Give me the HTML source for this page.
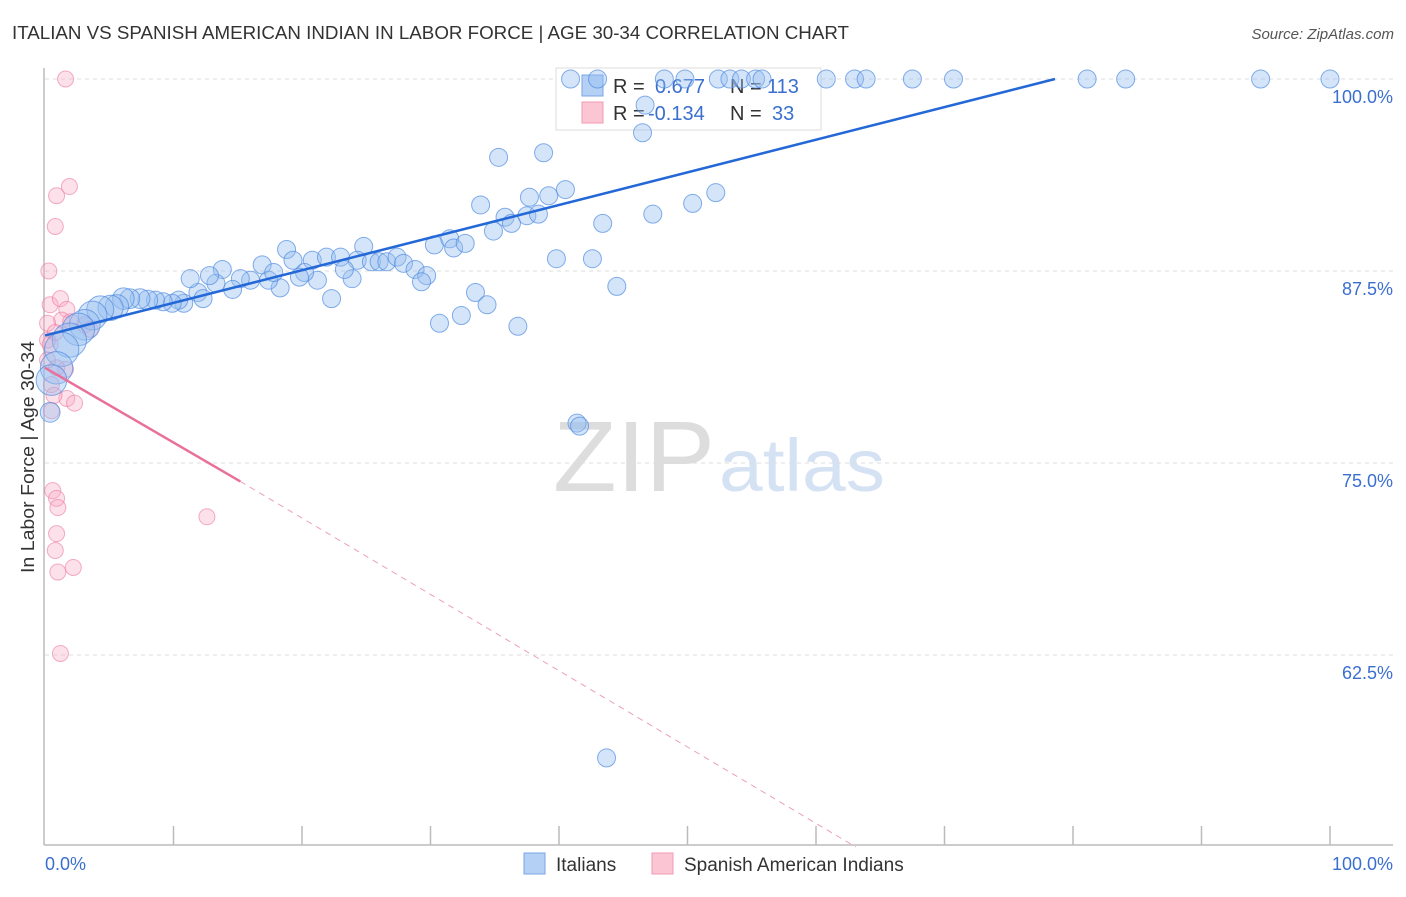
<!DOCTYPE html>
<html><head><meta charset="utf-8"><style>
body{margin:0;background:#fff;font-family:"Liberation Sans",sans-serif;}
svg text{font-family:"Liberation Sans",sans-serif;}
</style></head><body>
<svg id="chart" width="1406" height="892" xmlns="http://www.w3.org/2000/svg">
<text x="12" y="39" font-size="18.8" fill="#333" textLength="837" lengthAdjust="spacingAndGlyphs">ITALIAN VS SPANISH AMERICAN INDIAN IN LABOR FORCE | AGE 30-34 CORRELATION CHART</text>
<text x="1394" y="39" font-size="15" fill="#555" text-anchor="end" font-style="italic">Source: ZipAtlas.com</text>
<text x="553" y="491" font-size="100" fill="#ddd" font-family="Liberation Serif" textLength="162" lengthAdjust="spacingAndGlyphs">ZIP</text>
<text x="719" y="491" font-size="74" fill="#d4e2f4" textLength="166" lengthAdjust="spacingAndGlyphs">atlas</text>
<text transform="translate(34,457) rotate(-90)" font-size="18.5" fill="#333" text-anchor="middle" textLength="232" lengthAdjust="spacingAndGlyphs">In Labor Force | Age 30-34</text>
<g id="grid"></g>
<line x1="44" y1="68" x2="44" y2="845" stroke="#bbb" stroke-width="1.5"/>
<line x1="44" y1="845" x2="1393" y2="845" stroke="#bbb" stroke-width="1.5"/>
<text x="45" y="870" font-size="18" fill="#3a6fd0">0.0%</text>
<text x="1393" y="870" font-size="18" fill="#3a6fd0" text-anchor="end">100.0%</text>
<g id="legend-box">
<rect x="556" y="68" width="265" height="62" fill="#fff" stroke="#ddd"/>
<rect x="582" y="75" width="21" height="21" fill="#b5d0f5" stroke="#7aa6e6"/>
<rect x="582" y="102" width="21" height="21" fill="#fcc5d4" stroke="#f09ab4"/>
<text x="613" y="93" font-size="20" fill="#333">R =</text><text x="655" y="93" font-size="20" fill="#3a6fd0">0.677</text>
<text x="730" y="93" font-size="20" fill="#333">N =</text><text x="767" y="93" font-size="20" fill="#3a6fd0">113</text>
<text x="613" y="120" font-size="20" fill="#333">R =</text><text x="648" y="120" font-size="20" fill="#3a6fd0">-0.134</text>
<text x="730" y="120" font-size="20" fill="#333">N =</text><text x="772" y="120" font-size="20" fill="#3a6fd0">33</text>
</g>
<g id="pts"></g>
<g id="lines"></g>
<g>
<rect x="524" y="853" width="21" height="21" fill="#b5d0f5" stroke="#7aa6e6"/>
<text x="556" y="871" font-size="19" fill="#333">Italians</text>
<rect x="652" y="853" width="21" height="21" fill="#fcc5d4" stroke="#f09ab4"/>
<text x="684" y="871" font-size="19" fill="#333">Spanish American Indians</text>
</g>
</svg>
<script>
const yTicks=[100,87.5,75,62.5];
const yTickLabels=["100.0%","87.5%","75.0%","62.5%"];
const xTicks=[10,20,30,40,50,60,70,80,90,100];
const blueX=[40.9,43.0,48.2,49.8,52.4,53.3,54.2,55.3,55.8,60.8,63.0,63.9,67.5,70.7,81.1,84.1,94.6,100,46.7,46.5,
35.3,38.8,33.9,37.7,39.2,40.5,35.8,37.5,38.4,34.9,36.3,43.4,47.3,50.4,52.2,30.3,31.5,31.8,32.7,39.8,42.6,44.5,33.5,34.4,30.7,32.4,36.8,41.4,41.6,43.7,
18.8,19.3,20.8,21.9,23.0,24.8,24.3,25.4,26.0,26.6,27.4,27.9,28.8,29.7,29.3,23.9,23.3,21.2,22.3,20.2,19.8,18.3,16.9,17.4,17.8,16.0,15.2,14.6,13.8,13.3,12.8,11.9,11.3,12.3,10.8,10.4,9.9,9.2,8.6,8.0,7.4,6.6,6.1,5.6,5.1,4.3,3.7,3.1,2.6,1.9,1.3,0.9,0.5,0.4];
const blueY=[100,100,100,100,100,100,100,100,100,100,100,100,100,100,100,100,100,100,98.3,96.5,
94.9,95.2,91.8,92.3,92.4,92.8,91.0,91.1,91.2,90.1,90.6,90.6,91.2,91.9,92.6,89.2,89.6,89.0,89.3,88.3,88.3,86.5,86.1,85.3,84.1,84.6,83.9,77.6,77.4,55.8,
88.9,88.2,88.2,88.4,88.4,89.1,88.2,88.1,88.1,88.1,88.4,88.0,87.6,87.2,86.8,87.0,87.6,86.9,85.7,87.4,87.1,86.4,87.9,86.9,87.4,86.9,87.0,86.3,87.6,86.7,87.2,86.1,87.0,85.7,85.4,85.6,85.4,85.5,85.6,85.6,85.7,85.7,85.7,85.2,85.1,85.0,84.6,84.0,83.7,83.0,82.4,81.2,80.4,78.3];
const blueSize=[1,1,1,1,1,1,1,1,1,1,1,1,1,1,1,1,1,1,1,1,1,1,1,1,1,1,1,1,1,1,1,1,1,1,1,1,1,1,1,1,1,1,1,1,1,1,1,1,1,1,
1,1,1,1,1,1,1,1,1,1,1,1,1,1,1,1,1,1,1,1,1,1,1,1,1,1,1,1,1,1,1,1,1,1,1,1,1,1,1,1.1,1.1,1.1,1.2,1.3,1.4,1.5,1.6,1.7,1.8,1.9,1.9,1.8,1.7,1.1];
const pinkX=[1.6,0.9,1.9,0.8,0.3,0.4,1.2,1.7,1.3,2.0,0.2,0.2,0.4,1.6,0.5,1.7,2.3,0.6,0.9,1.0,0.9,0.8,1.0,2.2,1.2,12.6,3.1,3.5,0.9,0.5,0.7,0.2,0.8];
const pinkY=[100,92.4,93.0,90.4,87.5,85.3,85.7,85.0,84.3,84.2,84.1,83.0,82.7,81.1,80.1,79.2,78.9,73.2,72.7,72.1,70.4,69.3,67.9,68.2,62.6,71.5,84.0,83.7,81.2,78.4,79.4,81.7,83.5];
const blueTrend=[0,83.3,78.6,100];
const pinkTrend=[0,81.2,15.2,73.8,63.1,50];
const X=v=>45+v*12.85, Y=v=>79+(100-v)*15.36;
const NS="http://www.w3.org/2000/svg";
function mk(t,a,p){const e=document.createElementNS(NS,t);for(const k in a)e.setAttribute(k,a[k]);p.appendChild(e);return e;}
const grid=document.getElementById('grid');
yTicks.forEach((t,i)=>{
 const l=mk('line',{x1:45,x2:1393,y1:Y(t),y2:Y(t),stroke:'#ddd','stroke-dasharray':'4 4'},grid);
 
 
 const tx=mk('text',{x:1393,y:Y(t)+24,'font-size':18,fill:'#3a6fd0','text-anchor':'end'},grid);
 tx.textContent=yTickLabels[i];
 
 
});
xTicks.forEach(t=>{
 const l=mk('line',{x1:X(t),x2:X(t),y1:826,y2:845,stroke:'#bbb','stroke-width':1.5},grid);
 
 
});
const pts=document.getElementById('pts');
pinkX.forEach((x,i)=>{
 const c=mk('circle',{cx:X(x),cy:Y(pinkY[i]),r:8,fill:'rgba(250,170,195,0.35)',stroke:'rgba(235,120,160,0.6)','stroke-width':1},pts);
 
 
});
blueX.forEach((x,i)=>{
 const c=mk('circle',{cx:X(x),cy:Y(blueY[i]),r:9*blueSize[i],fill:'rgba(150,190,240,0.4)',stroke:'rgba(80,140,225,0.7)','stroke-width':1},pts);
 
 
});
const lines=document.getElementById('lines');
const bl=mk('line',{x1:X(blueTrend[0]),y1:Y(blueTrend[1]),x2:X(blueTrend[2]),y2:Y(blueTrend[3]),stroke:'#2468d8','stroke-width':2.5},lines);


const pl=mk('line',{x1:X(pinkTrend[0]),y1:Y(pinkTrend[1]),x2:X(pinkTrend[2]),y2:Y(pinkTrend[3]),stroke:'#e8709a','stroke-width':2.5},lines);


const pd=mk('line',{x1:X(pinkTrend[2]),y1:Y(pinkTrend[3]),x2:X(pinkTrend[4]),y2:Y(pinkTrend[5]),stroke:'#eca0b8','stroke-width':1,'stroke-dasharray':'6 5'},lines);


</script>
</body></html>
